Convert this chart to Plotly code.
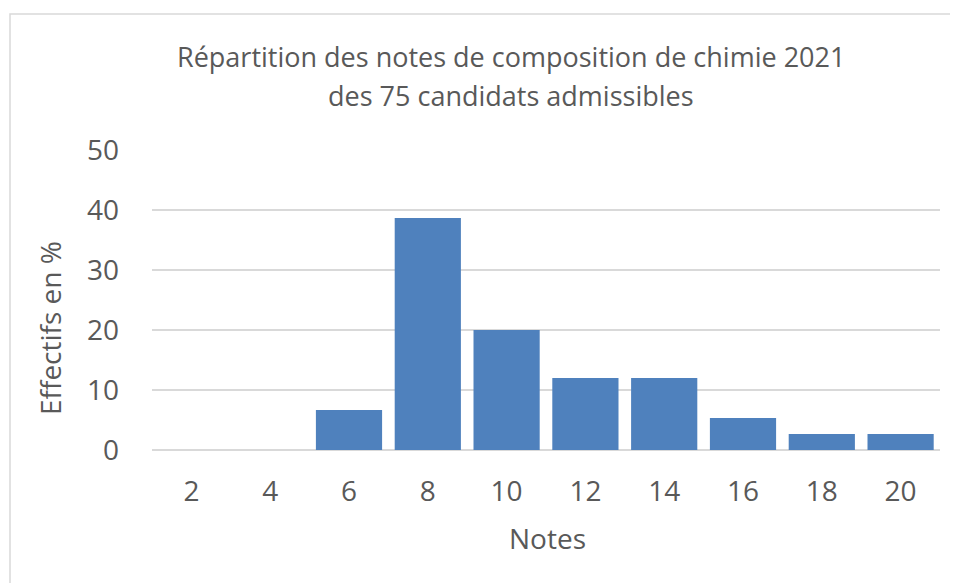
import plotly.graph_objects as go

notes = ["2", "4", "6", "8", "10", "12", "14", "16", "18", "20"]
effectifs = [0, 0, 6.67, 38.67, 20, 12, 12, 5.33, 2.67, 2.67]
y_ticks = [0, 10, 20, 30, 40, 50]

# la page a une marge de 8 px autour de la figure
OFF = 8
W, H = 958 - OFF, 583 - OFF
L, R, T, B = 152 - OFF, 18, 150 - OFF, 133
grey = "#595959"
font = "Open Sans"
fs = 28

pw = W - L - R
ph = H - T - B


def px_x(x):
    # position horizontale (pixels page) -> coordonnée paper
    return (x - OFF - L) / pw


def px_y(y):
    return (T + ph - (y - OFF)) / ph


fig = go.Figure()
fig.add_trace(go.Bar(x=notes, y=effectifs, marker=dict(color="#4f81bd", line=dict(width=0))))

fig.update_layout(
    width=W, height=H,
    margin=dict(l=L, r=R, t=T, b=B),
    plot_bgcolor="white", paper_bgcolor="white",
    bargap=0.16,
    showlegend=False,
    font=dict(family=font, color=grey),
    xaxis=dict(
        type="category",
        tickfont=dict(size=fs, color=grey),
        showline=False, showgrid=False, ticks="", ticklabelstandoff=22,
    ),
    yaxis=dict(
        range=[0, 50], tickvals=y_ticks,
        tickfont=dict(size=fs, color=grey),
        gridcolor="#d9d9d9", gridwidth=1.5,
        zeroline=True, zerolinecolor="#d9d9d9", zerolinewidth=1.5,
        showline=False, ticks="", ticklabelstandoff=32,
    ),
)

# titre sur deux lignes
titre = ["Répartition des notes de composition de chimie 2021", "des 75 candidats admissibles"]
for txt, yy in zip(titre, [56, 95]):
    fig.add_annotation(text=txt, xref="paper", yref="paper", x=px_x(511), y=px_y(yy),
                       xanchor="center", yanchor="middle", showarrow=False,
                       font=dict(size=27, color=grey, family=font))

# titres des axes
fig.add_annotation(text="Notes", xref="paper", yref="paper", x=px_x(547), y=px_y(538),
                   xanchor="center", yanchor="middle", showarrow=False,
                   font=dict(size=fs, color=grey, family=font))
fig.add_annotation(text="Effectifs en %", xref="paper", yref="paper", x=px_x(50), y=px_y(328),
                   xanchor="center", yanchor="middle", showarrow=False, textangle=-90,
                   font=dict(size=fs, color=grey, family=font))

# cadre gris du graphique
fig.add_shape(
    type="rect", xref="paper", yref="paper",
    x0=px_x(10), x1=px_x(W + 20),
    y0=px_y(H + 20), y1=px_y(14),
    line=dict(color="#d9d9d9", width=1.5), layer="below",
)

fig.write_html("out.html")
